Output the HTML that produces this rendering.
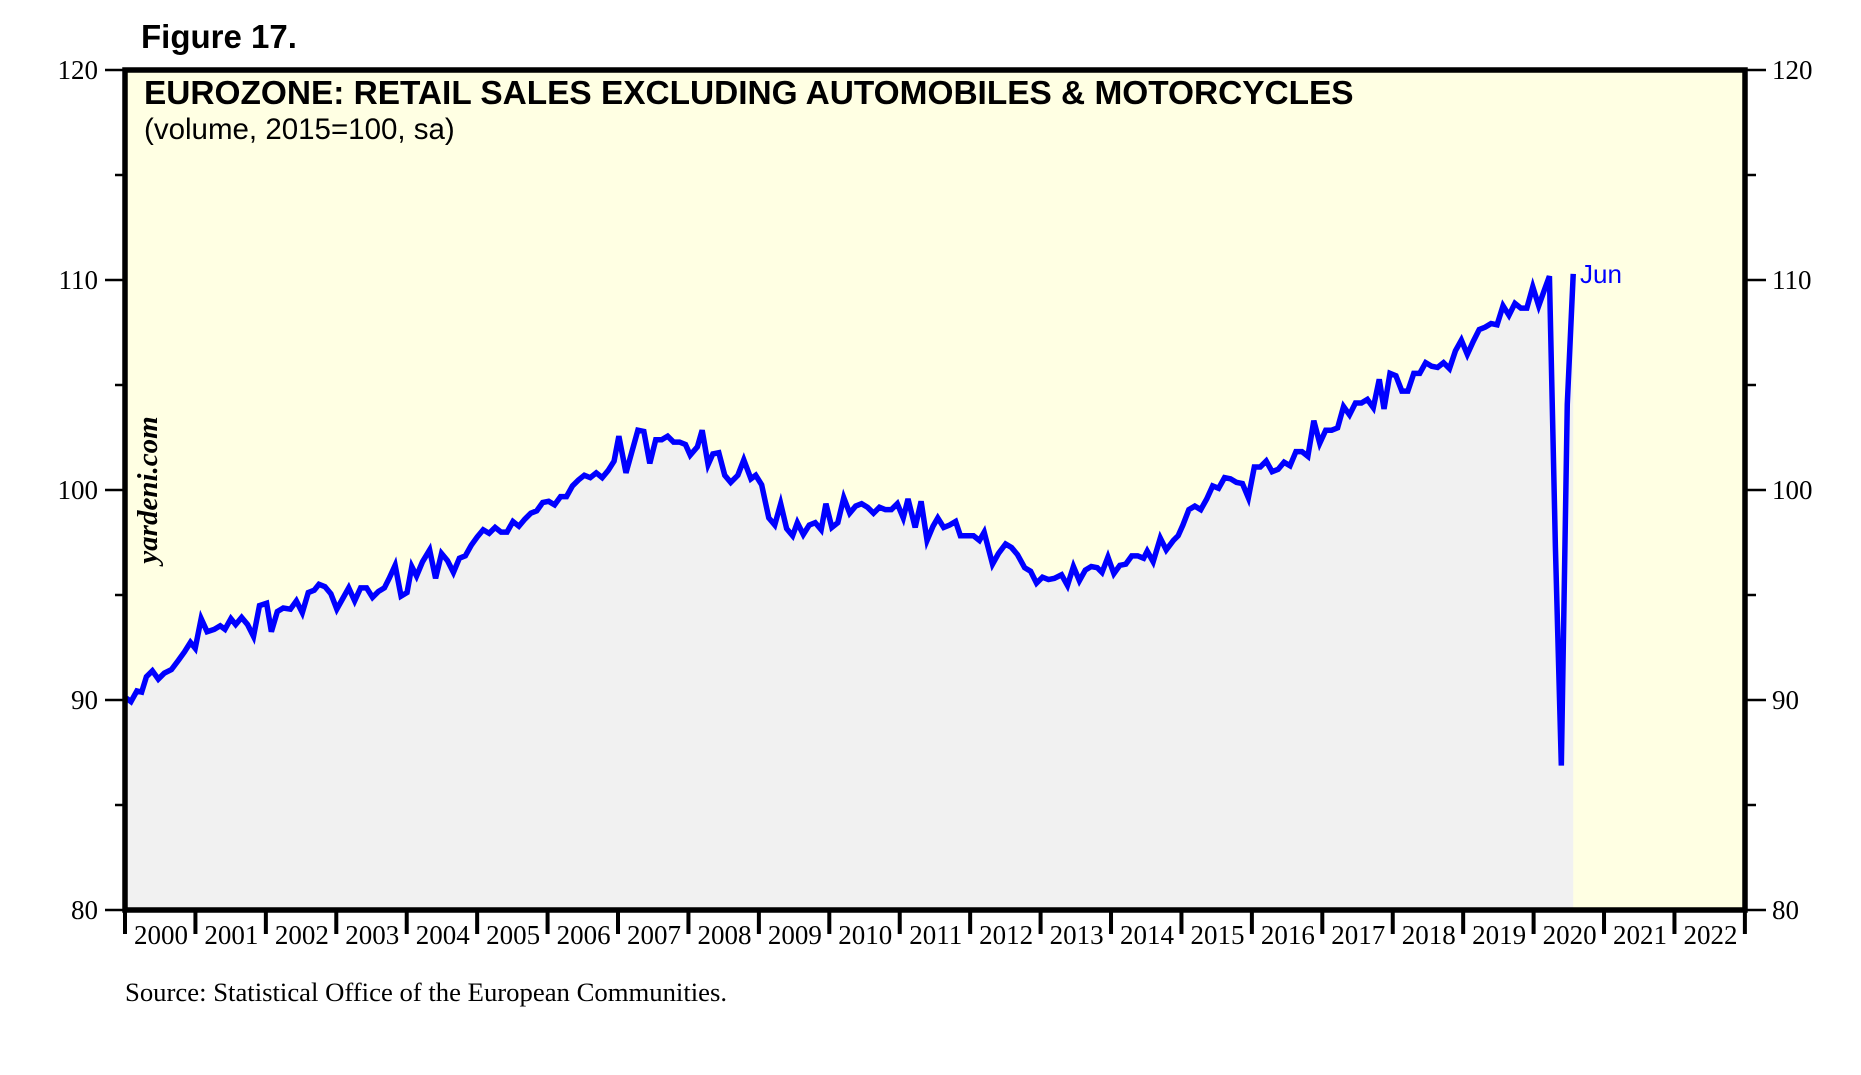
<!DOCTYPE html>
<html><head><meta charset="utf-8"><style>
html,body{margin:0;padding:0;background:#fff;}
svg{display:block;}
</style></head><body>
<svg width="1861" height="1075" viewBox="0 0 1861 1075" xmlns="http://www.w3.org/2000/svg">
<rect x="0" y="0" width="1861" height="1075" fill="#fff"/>
<rect x="125" y="70" width="1620" height="840" fill="#ffffe3"/>
<g transform="translate(125,70) scale(1.19,1.185) translate(-105,-58)">
<polygon fill="#f1f1f1" points="105,767 106,588 110,591 115,582 119,583 123,570 128,565 133,572 138,567 144,564 150,556 155,549 160,541 164,546 169,521 174,532 180,530 185,527 189,530 194,521 198,526 203,520 208,526 213,536 218,510 224,508 228,532 233,515 238,512 244,513 249,506 254,516 259,499 264,497 268,492 273,494 278,500 283,513 288,504 293,495 298,506 303,495 308,495 313,503 318,498 323,495 327,487 332,476 337,502 342,499 346,477 350,485 355,473 361,463 366,487 371,466 376,472 381,482 386,470 391,468 396,459 401,452 406,446 411,449 416,444 421,448 426,448 431,439 436,443 441,437 446,432 451,430 456,423 461,422 466,425 471,418 476,418 481,409 486,404 491,400 496,402 501,398 506,402 511,396 516,388 520,367 526,398 531,380 536,362 541,363 546,390 551,370 556,370 561,367 566,372 571,372 576,374 580,383 586,376 590,362 595,391 599,382 604,381 609,400 614,406 620,400 625,387 631,403 635,400 640,408 646,436 651,442 656,424 661,445 666,451 670,440 675,450 680,442 685,440 690,446 694,424 699,444 704,440 709,419 714,432 719,426 724,424 729,427 734,432 739,427 744,429 749,429 754,424 759,436 763,420 769,444 774,422 779,455 784,443 788,436 793,444 798,442 803,439 807,451 812,451 818,451 823,455 827,448 834,475 839,466 845,458 850,461 855,467 861,478 866,481 871,491 876,486 881,488 886,487 892,484 897,493 902,477 907,489 912,480 917,477 922,478 926,482 931,469 936,483 941,476 946,475 951,468 956,468 961,470 964,464 969,473 975,453 980,463 986,455 990,451 994,442 999,429 1004,426 1009,429 1014,420 1019,409 1024,411 1029,402 1034,403 1039,406 1044,407 1049,419 1054,393 1059,393 1064,388 1069,397 1074,395 1079,389 1084,392 1089,380 1094,380 1099,384 1104,354 1109,373 1114,362 1119,362 1124,360 1129,342 1134,349 1139,339 1144,339 1149,336 1154,343 1159,319 1163,344 1168,314 1173,316 1178,329 1183,329 1188,314 1193,314 1198,305 1203,308 1208,309 1213,305 1218,310 1223,295 1228,286 1233,298 1238,287 1243,277 1248,275 1253,272 1258,273 1263,257 1268,265 1273,255 1278,259 1283,259 1288,241 1293,257 1298,243 1302,232 1307,460 1312,645 1317,340 1322,230 1322,767"/>
<polyline fill="none" stroke="#0000ff" stroke-width="5.5" vector-effect="non-scaling-stroke" stroke-linejoin="miter" points="106,588 110,591 115,582 119,583 123,570 128,565 133,572 138,567 144,564 150,556 155,549 160,541 164,546 169,521 174,532 180,530 185,527 189,530 194,521 198,526 203,520 208,526 213,536 218,510 224,508 228,532 233,515 238,512 244,513 249,506 254,516 259,499 264,497 268,492 273,494 278,500 283,513 288,504 293,495 298,506 303,495 308,495 313,503 318,498 323,495 327,487 332,476 337,502 342,499 346,477 350,485 355,473 361,463 366,487 371,466 376,472 381,482 386,470 391,468 396,459 401,452 406,446 411,449 416,444 421,448 426,448 431,439 436,443 441,437 446,432 451,430 456,423 461,422 466,425 471,418 476,418 481,409 486,404 491,400 496,402 501,398 506,402 511,396 516,388 520,367 526,398 531,380 536,362 541,363 546,390 551,370 556,370 561,367 566,372 571,372 576,374 580,383 586,376 590,362 595,391 599,382 604,381 609,400 614,406 620,400 625,387 631,403 635,400 640,408 646,436 651,442 656,424 661,445 666,451 670,440 675,450 680,442 685,440 690,446 694,424 699,444 704,440 709,419 714,432 719,426 724,424 729,427 734,432 739,427 744,429 749,429 754,424 759,436 763,420 769,444 774,422 779,455 784,443 788,436 793,444 798,442 803,439 807,451 812,451 818,451 823,455 827,448 834,475 839,466 845,458 850,461 855,467 861,478 866,481 871,491 876,486 881,488 886,487 892,484 897,493 902,477 907,489 912,480 917,477 922,478 926,482 931,469 936,483 941,476 946,475 951,468 956,468 961,470 964,464 969,473 975,453 980,463 986,455 990,451 994,442 999,429 1004,426 1009,429 1014,420 1019,409 1024,411 1029,402 1034,403 1039,406 1044,407 1049,419 1054,393 1059,393 1064,388 1069,397 1074,395 1079,389 1084,392 1089,380 1094,380 1099,384 1104,354 1109,373 1114,362 1119,362 1124,360 1129,342 1134,349 1139,339 1144,339 1149,336 1154,343 1159,319 1163,344 1168,314 1173,316 1178,329 1183,329 1188,314 1193,314 1198,305 1203,308 1208,309 1213,305 1218,310 1223,295 1228,286 1233,298 1238,287 1243,277 1248,275 1253,272 1258,273 1263,257 1268,265 1273,255 1278,259 1283,259 1288,241 1293,257 1298,243 1302,232 1307,460 1312,645 1317,340 1322,230"/>
</g>
<rect x="125" y="70" width="1620" height="840" fill="none" stroke="#000" stroke-width="5.5"/>
<g stroke="#000" stroke-width="2.5">
<line x1="105" y1="70" x2="125" y2="70"/><line x1="115" y1="175" x2="125" y2="175"/>
<line x1="105" y1="280" x2="125" y2="280"/><line x1="115" y1="385" x2="125" y2="385"/>
<line x1="105" y1="490" x2="125" y2="490"/><line x1="115" y1="595" x2="125" y2="595"/>
<line x1="105" y1="700" x2="125" y2="700"/><line x1="115" y1="805" x2="125" y2="805"/>
<line x1="105" y1="910" x2="125" y2="910"/>
<line x1="1745" y1="70" x2="1766" y2="70"/><line x1="1745" y1="175" x2="1756" y2="175"/>
<line x1="1745" y1="280" x2="1766" y2="280"/><line x1="1745" y1="385" x2="1756" y2="385"/>
<line x1="1745" y1="490" x2="1766" y2="490"/><line x1="1745" y1="595" x2="1756" y2="595"/>
<line x1="1745" y1="700" x2="1766" y2="700"/><line x1="1745" y1="805" x2="1756" y2="805"/>
<line x1="1745" y1="910" x2="1766" y2="910"/>
</g>
<g font-family="Liberation Serif, serif" font-size="27" fill="#000">
<g text-anchor="end">
<text x="98" y="79">120</text><text x="98" y="289">110</text><text x="98" y="499">100</text><text x="98" y="709">90</text><text x="98" y="919">80</text>
</g>
<text x="1772" y="79">120</text><text x="1772" y="289">110</text><text x="1772" y="499">100</text><text x="1772" y="709">90</text><text x="1772" y="919">80</text>
</g>
<g id="xt" stroke="#000" stroke-width="4"></g>
<g id="xl" font-family="Liberation Serif, serif" font-size="27" text-anchor="middle"></g>
<script>
(function(){var ns="http://www.w3.org/2000/svg",t=document.getElementById("xt"),l=document.getElementById("xl");
for(var i=0;i<=23;i++){var x=125+i*70.43;var ln=document.createElementNS(ns,"line");ln.setAttribute("x1",x);ln.setAttribute("x2",x);ln.setAttribute("y1",910);ln.setAttribute("y2",934);t.appendChild(ln);
if(i<23){var tx=document.createElementNS(ns,"text");tx.setAttribute("x",x+36);tx.setAttribute("y",944);tx.textContent=2000+i;l.appendChild(tx);}}})();
</script>
<text x="141" y="48" font-family="Liberation Sans, sans-serif" font-weight="bold" font-size="33">Figure 17.</text>
<text x="144" y="104" font-family="Liberation Sans, sans-serif" font-weight="bold" font-size="33.4">EUROZONE: RETAIL SALES EXCLUDING AUTOMOBILES &amp; MOTORCYCLES</text>
<text x="144" y="139" font-family="Liberation Sans, sans-serif" font-size="29.5">(volume, 2015=100, sa)</text>
<text transform="translate(157,490) rotate(-90)" text-anchor="middle" font-family="Liberation Serif, serif" font-style="italic" font-weight="bold" font-size="29">yardeni.com</text>
<text x="1580" y="283" font-family="Liberation Sans, sans-serif" font-size="26" fill="#0000ff">Jun</text>
<text x="125" y="1001" font-family="Liberation Serif, serif" font-size="26.7">Source: Statistical Office of the European Communities.</text>
</svg>
</body></html>
